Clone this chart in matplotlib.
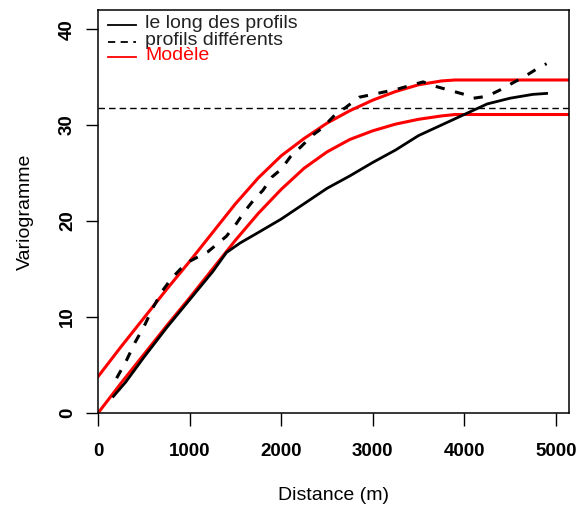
import matplotlib
matplotlib.use("Agg")
import matplotlib.pyplot as plt

plt.rcParams["font.family"] = ["Liberation Sans", "DejaVu Sans"]

# empirical variogram along the profiles (solid black)
dist_long = [165, 300, 500, 750, 1000, 1250, 1400, 1550, 1750, 2000, 2250, 2500,
             2750, 3000, 3250, 3500, 3750, 4000, 4250, 4500, 4750, 4900]
gamma_long = [1.7, 3.2, 5.8, 8.9, 11.8, 14.7, 16.7, 17.7, 18.8, 20.2, 21.8, 23.4,
              24.7, 26.1, 27.4, 28.9, 30.0, 31.1, 32.2, 32.8, 33.2, 33.3]

# empirical variogram between different profiles (dashed black)
dist_diff = [200, 300, 400, 500, 600, 700, 800, 900, 1000, 1100, 1200, 1300, 1400,
             1500, 1600, 1700, 1800, 1900, 2000, 2100, 2200, 2350, 2450, 2600, 2700,
             2850, 3000, 3250, 3550, 3700, 3850, 4000, 4100, 4250, 4400, 4550, 4650,
             4800, 4900]
gamma_diff = [3.6, 5.3, 7.3, 9.0, 11.0, 12.7, 14.0, 15.0, 15.8, 16.3, 16.8, 17.6, 18.4,
              19.6, 21.0, 22.2, 23.2, 24.6, 25.4, 26.7, 27.6, 29.0, 29.7, 31.2, 31.8,
              32.9, 33.2, 33.7, 34.5, 34.0, 33.6, 33.2, 32.8, 33.0, 33.7, 34.5, 35.0,
              35.9, 36.4]

# fitted models (red)
dist_model = [0, 250, 500, 750, 1000, 1250, 1500, 1750, 2000, 2250, 2500, 2750,
              3000, 3250, 3500, 3750, 3900, 5400]
model_high = [3.8, 6.9, 9.9, 12.9, 15.8, 18.8, 21.8, 24.5, 26.8, 28.6, 30.2, 31.5,
              32.6, 33.5, 34.2, 34.6, 34.7, 34.7]
model_low = [0.0, 3.1, 6.1, 9.1, 12.0, 15.0, 18.0, 20.8, 23.3, 25.5, 27.2, 28.5,
             29.4, 30.1, 30.6, 30.95, 31.1, 31.1]

sill_level = 31.8

legend_labels = ["le long des profils", "profils différents", "Modèle"]

fig = plt.figure(figsize=(5.78, 5.08), dpi=100)
ax = fig.add_axes([98.3 / 578, 1 - 412.7 / 508, 470.7 / 578, 402.7 / 508])

ax.axhline(sill_level, color="black", lw=1.0, linestyle=(0, (4.7, 2.9)))
ax.plot(dist_model, model_high, color="#ff0000", lw=2.2)
ax.plot(dist_model, model_low, color="#ff0000", lw=2.2)
ax.plot(dist_long, gamma_long, color="black", lw=2.0)
ax.plot(dist_diff, gamma_diff, color="black", lw=2.2, linestyle=(0, (3, 3.5)),
        dash_capstyle="butt")

ax.set_xlim(0, 5145)
ax.set_ylim(0, 42)
ax.set_xticks([0, 1000, 2000, 3000, 4000, 5000])
ax.set_yticks([0, 10, 20, 30, 40])
ax.tick_params(direction="out", length=9, width=1.0, labelsize=13.5, pad=13)
ax.tick_params(axis="y", pad=7)
for lab in ax.get_xticklabels() + ax.get_yticklabels():
    lab.set_fontweight("bold")
for lab in ax.get_yticklabels():
    lab.set_rotation(90)
    lab.set_va("center")
for sp in ax.spines.values():
    sp.set_linewidth(1.1)

ax.set_xlabel("Distance (m)", fontsize=14, labelpad=19)
ax.set_ylabel("Variogramme", fontsize=14, labelpad=18)

# legend drawn by hand (rows overlap slightly, as in the reference)
rows_y = [0.9627, 0.9213, 0.884]
styles = [dict(color="black", lw=1.3, linestyle="-"),
          dict(color="black", lw=1.3, linestyle=(0, (4, 3))),
          dict(color="#ff0000", lw=1.3, linestyle="-")]
text_colors = ["#222222", "#222222", "#ff0000"]
for y, st, lab, tc in zip(rows_y, styles, legend_labels, text_colors):
    ax.plot([0.0206, 0.080], [y, y], transform=ax.transAxes, **st)
    ax.text(0.0992, y + 0.004, lab, transform=ax.transAxes, fontsize=14,
            color=tc, va="center", ha="left")

fig.savefig("out.png", dpi=100)
